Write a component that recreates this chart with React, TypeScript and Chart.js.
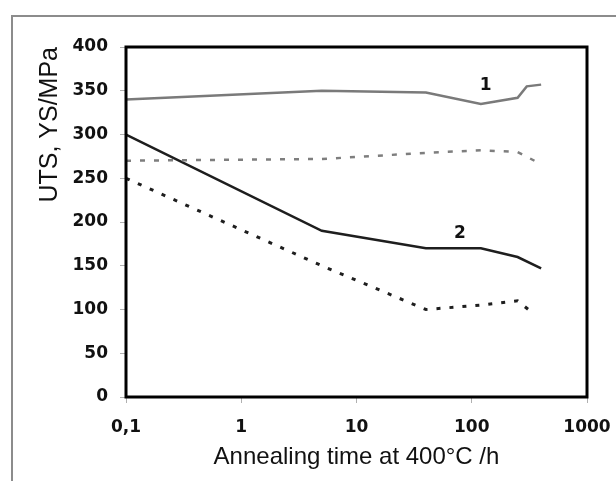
import React, { useEffect, useRef } from 'react';
import { Chart, registerables } from 'chart.js';

Chart.register(...registerables);

// Axis ticks
const xTicks = [0.1, 1, 10, 100, 1000];
const xTickLabels = ['0,1', '1', '10', '100', '1000'];
const yMin = 0;
const yMax = 400;
const yStep = 50;

// Curve 1: UTS (solid grey) and YS (dashed grey)
const uts1Time = [0.1, 5, 40, 120, 250, 300, 400];
const uts1Values = [340, 350, 348, 335, 342, 355, 357];
const ys1Time = [0.1, 5, 40, 120, 250, 350];
const ys1Values = [270, 272, 279, 282, 280, 270];

// Curve 2: UTS (solid black) and YS (dashed black)
const uts2Time = [0.1, 5, 40, 120, 250, 400];
const uts2Values = [300, 190, 170, 170, 160, 147];
const ys2Time = [0.1, 5, 40, 120, 250, 330];
const ys2Values = [250, 150, 100, 105, 110, 97];

// Curve number labels
const curveLabels = ['1', '2'];
const curveLabelTime = [132, 79];
const curveLabelValue = [356, 187];

const xTitle = 'Annealing time at 400°C /h';
const yTitle = 'UTS, YS/MPa';

const pts = (xs: number[], ys: number[]) => xs.map((x, i) => ({ x, y: ys[i] }));

const FONT = "'Liberation Sans', Arial, Helvetica, sans-serif";
const BOLD_FONT = "'DejaVu Sans', 'Liberation Sans', Arial, sans-serif";

export default function App() {
  const ref = useRef<HTMLCanvasElement | null>(null);

  useEffect(() => {
    if (!ref.current) return;

    const frameBox = {
      id: 'frameBox',
      afterDatasetsDraw(chart: any) {
        const { ctx, chartArea } = chart;
        ctx.save();
        ctx.strokeStyle = '#000';
        ctx.lineWidth = 3;
        ctx.strokeRect(chartArea.left, chartArea.top, chartArea.right - chartArea.left, chartArea.bottom - chartArea.top);
        ctx.restore();
      },
    };

    const curveNumbers = {
      id: 'curveNumbers',
      afterDatasetsDraw(chart: any) {
        const { ctx, scales } = chart;
        ctx.save();
        ctx.fillStyle = '#111';
        ctx.font = `bold 17px ${BOLD_FONT}`;
        ctx.textAlign = 'center';
        ctx.textBaseline = 'middle';
        curveLabels.forEach((t, i) => {
          ctx.fillText(t, scales.x.getPixelForValue(curveLabelTime[i]), scales.y.getPixelForValue(curveLabelValue[i]));
        });
        ctx.restore();
      },
    };

    const chart = new Chart(ref.current, {
      type: 'line',
      data: {
        datasets: [
          {
            data: pts(uts1Time, uts1Values),
            borderColor: '#7a7a7a',
            borderWidth: 2.5,
            pointRadius: 0,
            tension: 0,
          },
          {
            data: pts(ys1Time, ys1Values),
            borderColor: '#7e7e7e',
            borderWidth: 2.5,
            borderDash: [5, 9],
            pointRadius: 0,
            tension: 0,
          },
          {
            data: pts(uts2Time, uts2Values),
            borderColor: '#1e1e1e',
            borderWidth: 2.5,
            pointRadius: 0,
            tension: 0,
          },
          {
            data: pts(ys2Time, ys2Values),
            borderColor: '#1e1e1e',
            borderWidth: 3,
            borderDash: [4, 9],
            pointRadius: 0,
            tension: 0,
          },
        ],
      },
      options: {
        animation: false,
        responsive: false,
        maintainAspectRatio: false,
        layout: { padding: { left: 0, top: 47, right: 29, bottom: 0 } },
        plugins: {
          legend: { display: false },
          tooltip: { enabled: false },
          title: { display: false },
        },
        scales: {
          x: {
            type: 'logarithmic',
            min: xTicks[0],
            max: xTicks[xTicks.length - 1],
            afterBuildTicks: (scale: any) => {
              scale.ticks = xTicks.map((v) => ({ value: v }));
            },
            afterFit: (scale: any) => {
              scale.height = 84;
              scale.paddingLeft = 0;
              scale.paddingRight = 0;
            },
            grid: { drawOnChartArea: false, drawTicks: true, tickLength: 6, color: '#b0b0b0', lineWidth: 1 },
            border: { display: false },
            ticks: {
              autoSkip: false,
              maxRotation: 0,
              padding: 14,
              color: '#111',
              font: { family: BOLD_FONT, size: 17, weight: 'bold' },
              callback: (value: any) => {
                const i = xTicks.findIndex((t) => Math.abs(t - Number(value)) < 1e-9);
                return i >= 0 ? xTickLabels[i] : '';
              },
            },
            title: {
              display: true,
              text: xTitle,
              color: '#111',
              font: { family: FONT, size: 24 },
              padding: { top: 0, bottom: 9 },
            },
          },
          y: {
            min: yMin,
            max: yMax,
            afterFit: (scale: any) => {
              scale.width = 126;
              scale.paddingTop = 0;
              scale.paddingBottom = 0;
            },
            grid: { drawOnChartArea: false, drawTicks: true, tickLength: 6, color: '#b0b0b0', lineWidth: 1 },
            border: { display: false },
            ticks: {
              stepSize: yStep,
              padding: 12,
              color: '#111',
              font: { family: BOLD_FONT, size: 17, weight: 'bold' },
            },
            title: {
              display: true,
              text: yTitle,
              align: 'end',
              color: '#111',
              font: { family: FONT, size: 25 },
              padding: { top: 35, bottom: 0 },
            },
          },
        },
      } as any,
      plugins: [frameBox, curveNumbers],
    });

    return () => chart.destroy();
  }, []);

  return (
    <div style={{ position: 'fixed', left: 0, top: 0, width: 616, height: 481, background: '#fff', overflow: 'hidden' }}>
      <div
        style={{
          position: 'absolute',
          left: 11,
          top: 15,
          right: -10,
          bottom: -10,
          borderLeft: '2px solid #8c8c8c',
          borderTop: '2px solid #8c8c8c',
        }}
      />
      <canvas ref={ref} width={616} height={481} style={{ position: 'absolute', left: 0, top: 0, width: 616, height: 481 }} />
    </div>
  );
}
